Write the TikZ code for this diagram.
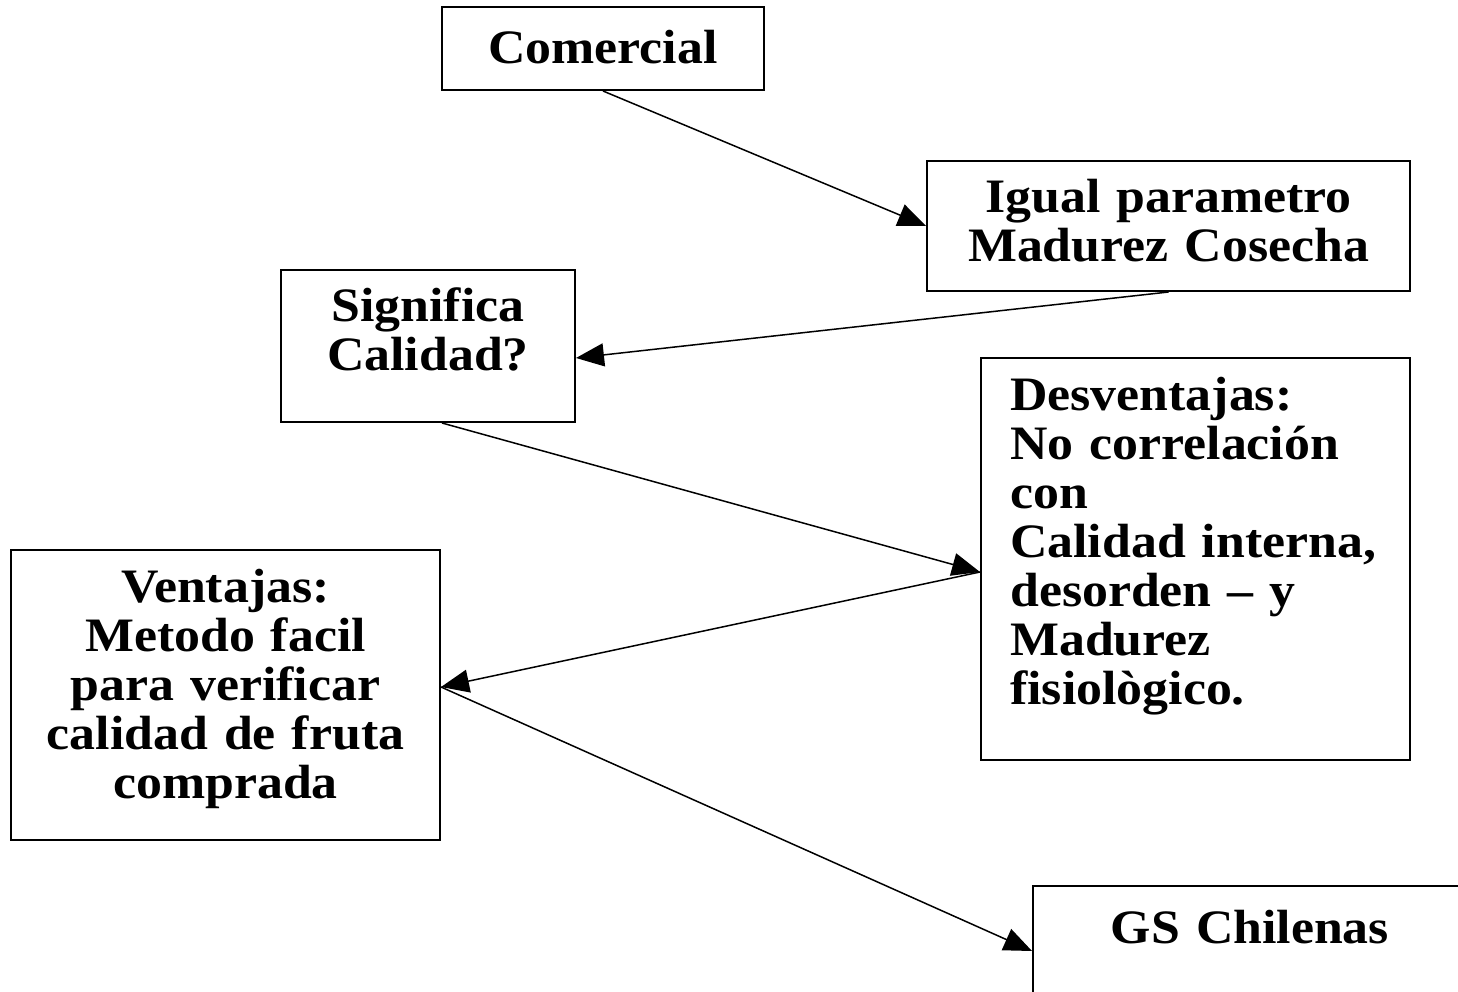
\documentclass[tikz,border=0pt]{standalone}
\usepackage{fontspec}
\setmainfont[FakeStretch=1.08]{Liberation Serif}
\usetikzlibrary{arrows.meta}
\begin{document}
\begin{tikzpicture}[x=1pt,y=-1pt,
  box/.style={draw, line width=2pt, inner sep=0pt},
  lbl/.style={font=\fontsize{48}{49}\selectfont\bfseries, inner sep=0pt,
              text width=440pt, align=center, anchor=base},
  lbll/.style={lbl, align=left, anchor=base west},
  link/.style={line width=1.5pt, -{Triangle[length=28pt,width=23pt]}}]
\useasboundingbox (0,0) rectangle (1458,992);
\clip (0,0) rectangle (1458,992);

% boxes
\node[box, minimum width=322pt, minimum height=83pt]  (com)   at (603,48.5)   {};
\node[box, minimum width=483pt, minimum height=130pt] (igual) at (1168.5,226) {};
\node[box, minimum width=294pt, minimum height=152pt] (sig)   at (428,346)    {};
\node[box, minimum width=429pt, minimum height=402pt] (desv)  at (1195.5,559) {};
\node[box, minimum width=429pt, minimum height=290pt] (vent)  at (225.5,695)  {};
\node[box, minimum width=434pt, minimum height=124pt] (gs)    at (1250,948)   {};

% texts
\node[lbl] (tcom) at (603,64) {Comercial};
\node[lbl] (tigual) at (1168.5,213) {Igual parametro\\Madurez Cosecha};
\node[lbl] (tsig) at (428,321) {Significa\\Calidad?};
\node[lbll] (tdesv) at (1010,410) {Desventajas:\\No correlación\\con\\Calidad interna,\\desorden – y\\Madurez\\fisiològico.};
\node[lbl] (tvent) at (225.5,602) {Ventajas:\\Metodo facil\\para verificar\\calidad de fruta\\comprada};
\node[lbl] (tgs) at (1250,943) {GS Chilenas};

% connector end points on the box borders
\coordinate (sigin)  at ([yshift=-12pt]sig.east);
\coordinate (sigout) at ([xshift=14pt]sig.south);
\coordinate (desvin) at ([yshift=-13pt]desv.west);
\coordinate (ventin) at ([yshift=8pt]vent.east);
\coordinate (gsin)   at ([yshift=-3pt]gs.west);

% connectors
\draw[link] (com.south) -- (igual.west);
\draw[link] (igual.south) -- (sigin);
\draw[link] (sigout) -- (desvin);
\draw[link] (desvin) -- (ventin);
\draw[link] (ventin) -- (gsin);
\end{tikzpicture}
\end{document}
